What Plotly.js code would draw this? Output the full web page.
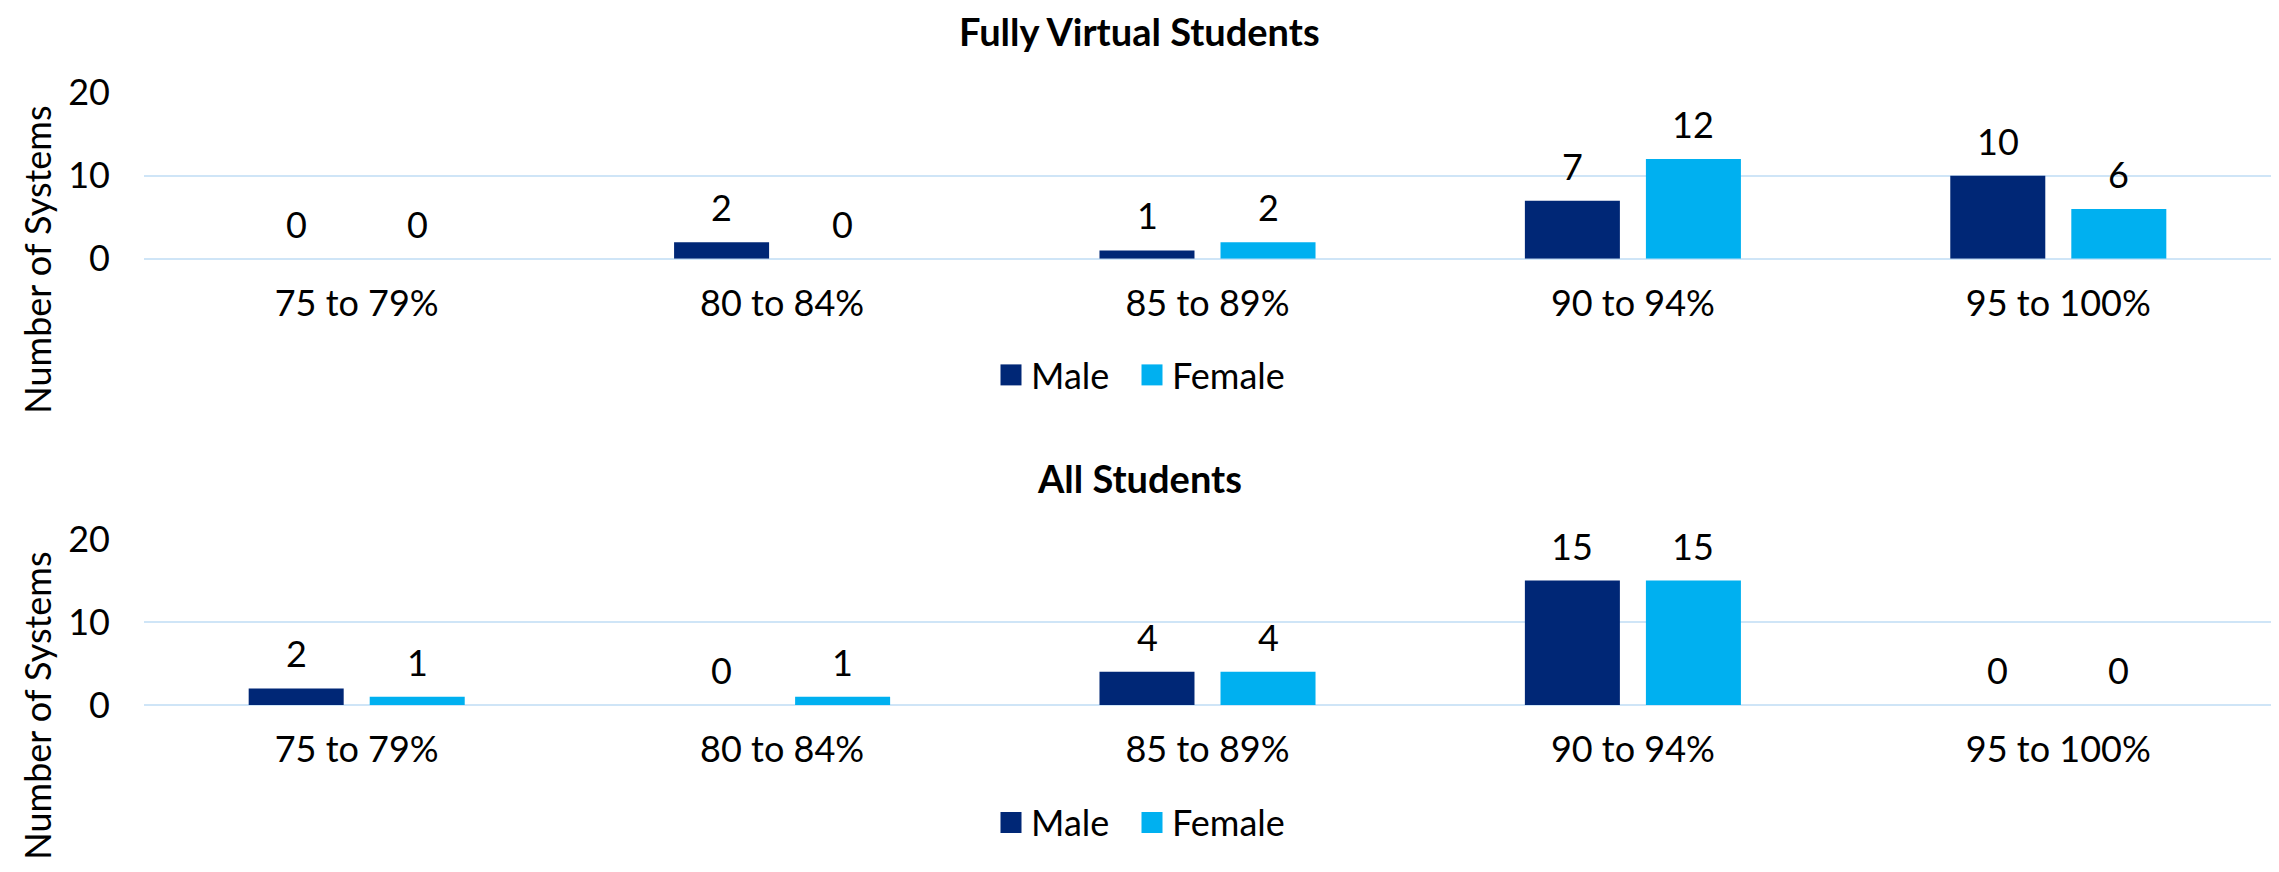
<!DOCTYPE html>
<html>
<head>
<meta charset="utf-8">
<script src="https://cdn.plot.ly/plotly-3.0.1.min.js"></script>
<style>
  html, body { margin: 0; padding: 0; background: #ffffff; }
  #chart { width: 2279px; height: 872px; }
</style>
</head>
<body>
<div id="chart"></div>
<script>
// ---- Data ----
const categories = ["75 to 79%", "80 to 84%", "85 to 89%", "90 to 94%", "95 to 100%"];
const seriesNames = ["Male", "Female"];
const virtualMale = [0, 2, 1, 7, 10];
const virtualFemale = [0, 0, 2, 12, 6];
const allMale = [2, 0, 4, 15, 0];
const allFemale = [1, 1, 4, 15, 0];
const yTickVals = [0, 10, 20];
const panelTitles = ["Fully Virtual Students", "All Students"];
const yTitle = "Number of Systems";

// ---- Style ----
const W = 2279, H = 872;
const FONT = "Lato, 'Open Sans', sans-serif";
const maleColor = "#002776";
const femaleColor = "#00b0f0";
const gridColor = "#cfe5f7";
const fs = 36;

function px2x(p) { return p / W; }
function py2y(p) { return 1 - p / H; }

const xDomain = [px2x(144), px2x(2271)];
const yDomTop = [py2y(258.8), py2y(92.6)];
const yDomBot = [py2y(705), py2y(539)];

function barTrace(name, vals, color, xa, ya, legendId) {
  return {
    type: "bar", name: name, x: categories, y: vals,
    xaxis: xa, yaxis: ya,
    marker: { color: color, line: { width: 0 } },
    legend: legendId, showlegend: true,
    hoverinfo: "x+y+name"
  };
}

const traces = [
  barTrace(seriesNames[0], virtualMale, maleColor, "x", "y", "legend"),
  barTrace(seriesNames[1], virtualFemale, femaleColor, "x", "y", "legend2"),
  barTrace(seriesNames[0], allMale, maleColor, "x2", "y2", "legend3"),
  barTrace(seriesNames[1], allFemale, femaleColor, "x2", "y2", "legend4")
];

// data labels
const annotations = [];
function addLabels(vals, xref, yref, shift) {
  vals.forEach((v, i) => {
    annotations.push({
      x: categories[i], y: v, xref: xref, yref: yref,
      text: String(v), showarrow: false,
      xanchor: "center", yanchor: "bottom",
      xshift: shift, yshift: 11,
      font: { family: FONT, size: fs, color: "#000000" }
    });
  });
}
const off = 60.5;
addLabels(virtualMale, "x", "y", -off);
addLabels(virtualFemale, "x", "y", off);
addLabels(allMale, "x2", "y2", -off);
addLabels(allFemale, "x2", "y2", off);

// panel titles
annotations.push({
  xref: "paper", yref: "paper", x: 0.5, y: py2y(31), xanchor: "center", yanchor: "middle",
  text: panelTitles[0], showarrow: false,
  font: { family: FONT, size: 38, color: "#000000", weight: 700 }
});
annotations.push({
  xref: "paper", yref: "paper", x: 0.5, y: py2y(478), xanchor: "center", yanchor: "middle",
  text: panelTitles[1], showarrow: false,
  font: { family: FONT, size: 38, color: "#000000", weight: 700 }
});
// y axis titles
[260, 706].forEach(cy => {
  annotations.push({
    xref: "paper", yref: "paper", x: px2x(36.7), y: py2y(cy), xanchor: "center", yanchor: "middle",
    text: yTitle, showarrow: false, textangle: -90,
    font: { family: FONT, size: fs, color: "#000000" }
  });
});

function xAxis(anchor) {
  return {
    domain: xDomain, anchor: anchor, type: "category",
    categoryorder: "array", categoryarray: categories,
    range: [-0.5, 4.5],
    showgrid: false, zeroline: false, showline: false, ticks: "",
    ticklabelstandoff: 20,
    tickfont: { family: FONT, size: fs, color: "#000000" },
    fixedrange: true
  };
}
function yAxis(anchor, dom) {
  return {
    domain: dom, anchor: anchor, range: [0, 20],
    tickvals: yTickVals, ticktext: yTickVals.map(String),
    showgrid: true, gridcolor: gridColor, gridwidth: 2,
    zeroline: true, zerolinecolor: gridColor, zerolinewidth: 2,
    showline: false, ticks: "",
    ticklabelstandoff: 33,
    tickfont: { family: FONT, size: fs, color: "#000000" },
    fixedrange: true
  };
}

function legendAt(xLeftPx, yMidPx) {
  return {
    orientation: "h", xanchor: "left", x: px2x(xLeftPx), yanchor: "middle", y: py2y(yMidPx),
    font: { family: FONT, size: fs, color: "#000000" },
    bgcolor: "rgba(0,0,0,0)", borderwidth: 0
  };
}

const layout = {
  width: W, height: H,
  margin: { l: 0, r: 0, t: 0, b: 0 },
  paper_bgcolor: "#ffffff", plot_bgcolor: "#ffffff",
  font: { family: FONT, size: fs, color: "#000000" },
  barmode: "group", bargap: 0.431, bargroupgap: 0.215,
  xaxis: xAxis("y"),
  yaxis: yAxis("x", yDomTop),
  xaxis2: xAxis("y2"),
  yaxis2: yAxis("x2", yDomBot),
  legend: legendAt(991, 375),
  legend2: legendAt(1132, 375),
  legend3: legendAt(991, 822.5),
  legend4: legendAt(1132, 822.5),
  annotations: annotations,
  showlegend: true
};

function enlargeSwatches(gd) {
  gd.querySelectorAll("g.legendpoints path").forEach(p => {
    p.setAttribute("d", "M10.5,10.5H-10.5V-10.5H10.5Z");
  });
}

const gdiv = document.getElementById("chart");
Plotly.newPlot(gdiv, traces, layout, { staticPlot: true, displayModeBar: false }).then(gd => {
  enlargeSwatches(gd);
  gd.on && gd.on("plotly_afterplot", () => enlargeSwatches(gd));
  setTimeout(() => enlargeSwatches(gd), 50);
});
</script>
</body>
</html>
